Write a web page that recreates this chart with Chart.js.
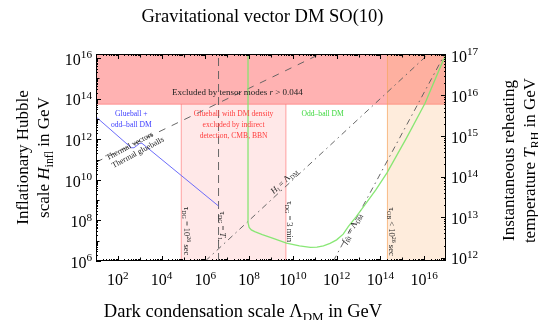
<!DOCTYPE html>
<html><head><meta charset="utf-8">
<script src="https://cdn.jsdelivr.net/npm/chart.js@4.4.1/dist/chart.umd.min.js"></script>
<style>html,body{margin:0;padding:0;background:#fff;} #wrap{width:538px;height:320px;}</style>
</head><body><div id="wrap"><canvas id="c" width="538" height="320"></canvas></div>
<script>
// ---------- axis ranges and tick labels ----------
const xMin = 10, xMax = 1e17;            // Lambda_DM [GeV]
const hMin = 1e6, hMax = 1.58e16;        // H_infl [GeV]
const tMin = 8.3e11, tMax = 1.05e17;     // T_RH [GeV]
const xTickValues = [1e2, 1e4, 1e6, 1e8, 1e10, 1e12, 1e14, 1e16];
const xTickLabels = ['10^{2}', '10^{4}', '10^{6}', '10^{8}', '10^{10}', '10^{12}', '10^{14}', '10^{16}'];
const hTickValues = [1e6, 1e8, 1e10, 1e12, 1e14, 1e16];
const hTickLabels = ['10^{6}', '10^{8}', '10^{10}', '10^{12}', '10^{14}', '10^{16}'];
const tTickValues = [1e12, 1e13, 1e14, 1e15, 1e16, 1e17];
const tTickLabels = ['10^{12}', '10^{13}', '10^{14}', '10^{15}', '10^{16}', '10^{17}'];

// ---------- bounds ----------
const hTensorBound = 5.3e13;     // r > 0.044 excluded above
const lambdaTau26 = 7.9e4;       // tau_DG = 10^26 sec
const lambdaTL = 4.0e6;          // tau_DG = T_L
const lambdaOddVertical = 8.9e7; // odd-ball DM vertical branch
const lambda3min = 4.8e9;        // tau_DG = 3 min
const lambdaTauOB = 2.1e14;      // tau_OB < 10^26 sec

// ---------- curves ----------
const glueballLambda = [10, 4.1e2, 5.5e2, 1.0e3, 1.26e3, 4.0e6];
const glueballH      = [1.26e13, 3.8e11, 3.8e11, 6.3e11, 6.3e11, 5.1e8];

const thermalLambda = [10, 1.8e11];
const thermalH      = [7.4e10, 1.6e16];

const hubbleEqLambda = [1e6, 1.6e16];
const hubbleEqH      = [1e6, 1.6e16];

const fbiLambda = [7.1e11, 8.9e16];
const fbiH      = [1e6, 1.6e16];

const oddLambda = [8.9e7, 8.9e7, 1.0e8, 1.26e8, 1.8e8, 4.0e8, 1.26e9, 5.1e9, 2.0e10, 6.3e10, 1.26e11, 2.5e11, 5.0e11, 1.0e12, 2.0e12, 3.4e12, 7.9e12, 1.95e13, 6.3e13, 2.0e14, 1.6e15, 1.1e16, 7.6e16, 1e17];
const oddH      = [1.6e16, 7.8e7, 4.5e7, 3.4e7, 2.8e7, 2.0e7, 1.3e7, 7.6e6, 5.5e6, 4.7e6, 4.8e6, 5.5e6, 7.4e6, 1.1e7, 2.1e7, 4.9e7, 1.55e8, 5.8e8, 3.3e9, 2.2e10, 1.2e12, 5.9e13, 8.1e15, 1.4e16];

// ---------- annotations (text in data coordinates) ----------
const annotations = [
  {text: 'Excluded by tensor modes $r$ > 0.044', x: 2.9e7, y: 2.2e14, size: 9, color: '#222', rot: 0},
  {text: 'Glueball +', x: 4.1e2, y: 1.9e13, size: 7.6, color: '#3c3cff', rot: 0},
  {text: 'odd–ball DM', x: 4.1e2, y: 5.5e12, size: 7.6, color: '#3c3cff', rot: 0},
  {text: 'Glueball with DM density', x: 1.95e7, y: 1.9e13, size: 7.6, color: '#ff3c3c', rot: 0},
  {text: 'excluded by indirect', x: 1.95e7, y: 5.2e12, size: 7.6, color: '#ff3c3c', rot: 0},
  {text: 'detection, CMB, BBN', x: 1.95e7, y: 1.45e12, size: 7.6, color: '#ff3c3c', rot: 0},
  {text: 'Odd–ball DM', x: 2.3e11, y: 1.9e13, size: 7.6, color: '#3ed83e', rot: 0},
  {text: 'Thermal vectors', x: 3.4e2, y: 4.8e11, size: 8, color: '#222', rot: -28},
  {text: 'Thermal glueballs', x: 8.1e2, y: 2.3e11, size: 8, color: '#222', rot: -28},
  {text: 'τ_{DG} = 10^{26} sec', x: 1.35e5, y: 3.0e7, size: 8.5, color: '#222', rot: 90},
  {text: 'τ_{DG} = $T$_{L}', x: 6.2e6, y: 5.2e7, size: 8.5, color: '#222', rot: 90},
  {text: '$H$_{I} = Λ_{DM}', x: 3.9e9, y: 8.7e9, size: 8.5, color: '#222', rot: -43},
  {text: 'τ_{DG} = 3 min', x: 7.2e9, y: 8.7e7, size: 8.5, color: '#222', rot: 90},
  {text: '$f$_{BI} = Λ_{DM}', x: 4.8e12, y: 4.1e7, size: 8.5, color: '#222', rot: -62},
  {text: 'τ_{OB} < 10^{26} sec', x: 3.3e14, y: 2.8e7, size: 8.5, color: '#222', rot: 90}
];

const FAM = "'Liberation Serif', 'Times New Roman', serif";

function pts(xs, ys) { return xs.map((x, i) => ({x: x, y: ys[i]})); }

function parseRich(s) {
  const out = []; let i = 0, it = false, buf = '';
  const push = (t, mode) => { if (t) out.push({t, mode, it}); };
  while (i < s.length) {
    const c = s[i];
    if (c === '$') { push(buf, 'n'); buf = ''; it = !it; i++; continue; }
    if ((c === '_' || c === '^') && s[i + 1] === '{') {
      push(buf, 'n'); buf = '';
      const j = s.indexOf('}', i);
      push(s.slice(i + 2, j), c === '_' ? 'sub' : 'sup');
      i = j + 1; continue;
    }
    buf += c; i++;
  }
  push(buf, 'n');
  return out;
}

function drawRich(ctx, str, cx, cy, fs, color, rot, align) {
  const parts = parseRich(str);
  ctx.save();
  ctx.translate(cx, cy);
  ctx.rotate(rot * Math.PI / 180);
  ctx.textBaseline = 'alphabetic';
  ctx.textAlign = 'left';
  ctx.fillStyle = color;
  const segs = parts.map(p => {
    const size = p.mode === 'n' ? fs : fs * 0.7;
    const font = (p.it ? 'italic ' : '') + size + 'px ' + FAM;
    ctx.font = font;
    return {p, font, w: ctx.measureText(p.t).width};
  });
  const total = segs.reduce((a, s) => a + s.w, 0);
  let x0 = align === 'left' ? 0 : align === 'right' ? -total : -total / 2;
  const base = fs * 0.33;
  for (const s of segs) {
    ctx.font = s.font;
    const dy = s.p.mode === 'sub' ? fs * 0.22 : s.p.mode === 'sup' ? -fs * 0.4 : 0;
    ctx.fillText(s.p.t, x0, base + dy);
    x0 += s.w;
  }
  ctx.restore();
}

const framePlugin = {
  id: 'framePlugin',
  afterDraw(chart) {
    const ctx = chart.ctx, a = chart.chartArea;
    const sx = chart.scales.x, sy = chart.scales.y, st = chart.scales.y2;
    ctx.save();
    ctx.strokeStyle = '#000';
    ctx.lineWidth = 1;
    ctx.beginPath();
    for (let d = 1; d <= 16; d++) for (let k = 1; k <= 9; k++) {
      const v = k * Math.pow(10, d);
      if (v < xMin || v > xMax) continue;
      const p = Math.round(sx.getPixelForValue(v)) + 0.5;
      const len = k === 1 ? (d % 2 === 0 ? 5 : 3.5) : 2;
      ctx.moveTo(p, a.bottom); ctx.lineTo(p, a.bottom - len);
      ctx.moveTo(p, a.top); ctx.lineTo(p, a.top + len);
    }
    for (let d = 6; d <= 16; d++) for (let k = 1; k <= 9; k++) {
      const v = k * Math.pow(10, d);
      if (v < hMin || v > hMax) continue;
      const p = Math.round(sy.getPixelForValue(v)) + 0.5;
      const len = k === 1 ? (d % 2 === 0 ? 5 : 3.5) : 2;
      ctx.moveTo(a.left, p); ctx.lineTo(a.left + len, p);
    }
    for (let d = 11; d <= 17; d++) for (let k = 1; k <= 9; k++) {
      const v = k * Math.pow(10, d);
      if (v < tMin || v > tMax) continue;
      const p = Math.round(st.getPixelForValue(v)) + 0.5;
      const len = k === 1 ? 5 : 2;
      ctx.moveTo(a.right, p); ctx.lineTo(a.right - len, p);
    }
    ctx.stroke();
    ctx.strokeRect(a.left + 0.5, a.top + 0.5, a.right - a.left - 1, a.bottom - a.top - 1);

    // tick labels, placed through the library scales
    xTickValues.forEach((v, i) => drawRich(ctx, xTickLabels[i], sx.getPixelForValue(v), a.bottom + 19, 16, '#000', 0, 'center'));
    hTickValues.forEach((v, i) => drawRich(ctx, hTickLabels[i], a.left - 4, sy.getPixelForValue(v) + 1.5, 16, '#000', 0, 'right'));
    tTickValues.forEach((v, i) => drawRich(ctx, tTickLabels[i], a.right + 5, st.getPixelForValue(v) + 1.5, 16, '#000', 0, 'left'));

    for (const an of annotations) {
      drawRich(ctx, an.text, sx.getPixelForValue(an.x), sy.getPixelForValue(an.y), an.size, an.color, an.rot, 'center');
    }
    // titles
    drawRich(ctx, 'Gravitational vector DM SO(10)', 262.5, 15.5, 18.5, '#000', 0, 'center');
    drawRich(ctx, 'Dark condensation scale Λ_{DM} in GeV', 243, 311, 18.5, '#000', 0, 'center');
    const cyL = (a.top + a.bottom) / 2;
    drawRich(ctx, 'Inflationary Hubble', 22, cyL, 17, '#000', -90, 'center');
    drawRich(ctx, 'scale $H$_{infl} in GeV', 43.5, cyL, 17, '#000', -90, 'center');
    drawRich(ctx, 'Instantaneous reheating', 508, cyL + 3, 17, '#000', -90, 'center');
    drawRich(ctx, 'temperature $T$_{RH} in GeV', 529.5, cyL + 3, 17, '#000', -90, 'center');
    ctx.restore();
  }
};

const gray = 'rgba(95,95,95,0.95)';
const datasets = [
  // regions
  {data: pts([lambdaTau26, lambda3min], [hTensorBound, hTensorBound]), fill: 'start', backgroundColor: 'rgba(255,0,0,0.09)', borderWidth: 0, order: 30},
  {data: pts([xMin, xMax], [hTensorBound, hTensorBound]), fill: 'end', backgroundColor: 'rgba(255,0,0,0.3)', borderColor: 'rgba(255,70,70,0.45)', borderWidth: 1, order: 29},
  {data: pts([lambdaTauOB, xMax], [hMax, hMax]), fill: 'start', backgroundColor: 'rgba(250,170,95,0.22)', borderWidth: 0, order: 28},
  // region edges
  {data: pts([lambdaTau26, lambdaTau26], [hMin, hTensorBound]), borderColor: 'rgba(255,90,90,0.55)', borderWidth: 1, order: 20},
  {data: pts([lambda3min, lambda3min], [hMin, hTensorBound]), borderColor: 'rgba(255,90,90,0.55)', borderWidth: 1, order: 20},
  {data: pts([lambdaTauOB, lambdaTauOB], [hMin, hMax]), borderColor: 'rgba(245,165,95,0.75)', borderWidth: 1, order: 20},
  // reference lines
  {data: pts([lambdaTL, lambdaTL], [hMin, hMax]), borderColor: gray, borderWidth: 1, borderDash: [8, 5], order: 10},
  {data: pts(thermalLambda, thermalH), borderColor: gray, borderWidth: 1, borderDash: [7, 7], order: 10},
  {data: pts(hubbleEqLambda, hubbleEqH), borderColor: gray, borderWidth: 1, borderDash: [6, 4, 1.5, 4], order: 10},
  {data: pts(fbiLambda, fbiH), borderColor: gray, borderWidth: 1, borderDash: [6, 4, 1.5, 4], order: 10},
  // physics curves
  {data: pts(glueballLambda, glueballH), borderColor: 'rgba(100,100,250,0.95)', borderWidth: 1, order: 2},
  {data: pts(oddLambda, oddH), borderColor: 'rgba(130,230,110,0.95)', borderWidth: 1.3, order: 1}
].map(d => Object.assign({showLine: true, pointRadius: 0, xAxisID: 'x', yAxisID: 'y', tension: 0}, d));

new Chart(document.getElementById('c'), {
  type: 'scatter',
  data: {datasets},
  plugins: [framePlugin],
  options: {
    responsive: false,
    devicePixelRatio: 1,
    animation: false,
    layout: {padding: {top: 54, left: 0, right: 0, bottom: 0}},
    plugins: {legend: {display: false}, tooltip: {enabled: false}, title: {display: false}},
    scales: {
      x: {
        type: 'logarithmic', position: 'bottom', min: xMin, max: xMax,
        grid: {display: false, drawTicks: false}, border: {display: false},
        afterBuildTicks: s => { s.ticks = xTickValues.map(v => ({value: v})); },
        afterFit: s => { s.height = 59; },
        ticks: {display: false}
      },
      y: {
        type: 'logarithmic', position: 'left', min: hMin, max: hMax,
        grid: {display: false, drawTicks: false}, border: {display: false},
        afterBuildTicks: s => { s.ticks = hTickValues.map(v => ({value: v})); },
        afterFit: s => { s.width = 96; },
        ticks: {display: false}
      },
      y2: {
        type: 'logarithmic', position: 'right', min: tMin, max: tMax,
        grid: {display: false, drawTicks: false}, border: {display: false},
        afterBuildTicks: s => { s.ticks = tTickValues.map(v => ({value: v})); },
        afterFit: s => { s.width = 92; },
        ticks: {display: false}
      }
    }
  }
});
</script></body></html>
